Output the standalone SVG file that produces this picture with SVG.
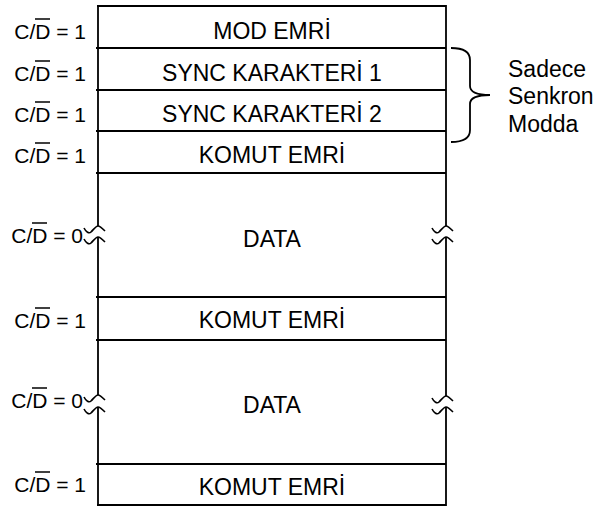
<svg xmlns="http://www.w3.org/2000/svg" width="595" height="506" viewBox="0 0 595 506">
<style>
.ln{stroke:#000;stroke-width:1.8;fill:none}
.wv{stroke:#000;stroke-width:1.6;fill:none}
.bx{font-family:"Liberation Sans",Arial,sans-serif;font-size:23px;fill:#000;text-anchor:middle}
.lb{font-family:"Liberation Sans",Arial,sans-serif;font-size:21px;fill:#000;text-anchor:end}
.nt{font-family:"Liberation Sans",Arial,sans-serif;font-size:23px;fill:#000}
.ov{stroke:#000;stroke-width:1.5}
</style>
<defs>
<path id="wv" d="M -14 2 C -12 6 -9 8 -7 6 C -4 3 -2 0 0 0 C 2 0 4 2 7 5" class="wv"/>
</defs>
<g id="frame">
<line class="ln" x1="98" y1="5" x2="98" y2="226"/>
<line class="ln" x1="98" y1="237" x2="98" y2="395"/>
<line class="ln" x1="98" y1="407" x2="98" y2="506"/>
<line class="ln" x1="446" y1="5" x2="446" y2="226"/>
<line class="ln" x1="446" y1="237" x2="446" y2="396"/>
<line class="ln" x1="446" y1="407" x2="446" y2="506"/>
<use href="#wv" x="98" y="226"/>
<use href="#wv" x="98" y="237"/>
<use href="#wv" x="98" y="395"/>
<use href="#wv" x="98" y="407"/>
<use href="#wv" x="446" y="226"/>
<use href="#wv" x="446" y="237"/>
<use href="#wv" x="446" y="396"/>
<use href="#wv" x="446" y="407"/>
</g>
<g id="r1">
<line class="ln" x1="97" y1="6" x2="446" y2="6"/>
<text class="bx" x="272" y="39">MOD EMRİ</text>
<text class="lb" x="86" y="39">C/D = 1</text>
<line class="ov" x1="35" y1="19" x2="50" y2="19"/>
</g>
<g id="r2">
<line class="ln" x1="96" y1="48" x2="446" y2="48"/>
<text class="bx" x="272" y="81">SYNC KARAKTERİ 1</text>
<text class="lb" x="86" y="81">C/D = 1</text>
<line class="ov" x1="35" y1="61" x2="50" y2="61"/>
</g>
<g id="r3">
<line class="ln" x1="96" y1="90" x2="446" y2="90"/>
<text class="bx" x="272" y="122">SYNC KARAKTERİ 2</text>
<text class="lb" x="86" y="122">C/D = 1</text>
<line class="ov" x1="35" y1="102" x2="50" y2="102"/>
</g>
<g id="r4">
<line class="ln" x1="96" y1="131" x2="446" y2="131"/>
<text class="bx" x="272" y="163">KOMUT EMRİ</text>
<text class="lb" x="86" y="163">C/D = 1</text>
<line class="ov" x1="35" y1="143" x2="50" y2="143"/>
</g>
<g id="r5">
<line class="ln" x1="96" y1="173" x2="446" y2="173"/>
<text class="bx" x="272" y="247">DATA</text>
<text class="lb" x="83" y="243">C/D = 0</text>
<line class="ov" x1="32" y1="223" x2="47" y2="223"/>
</g>
<g id="r6">
<line class="ln" x1="96" y1="297" x2="446" y2="297"/>
<text class="bx" x="272" y="328">KOMUT EMRİ</text>
<text class="lb" x="86" y="328">C/D = 1</text>
<line class="ov" x1="35" y1="308" x2="50" y2="308"/>
</g>
<g id="r7">
<line class="ln" x1="96" y1="340" x2="446" y2="340"/>
<text class="bx" x="272" y="413">DATA</text>
<text class="lb" x="83" y="408">C/D = 0</text>
<line class="ov" x1="32" y1="388" x2="47" y2="388"/>
</g>
<g id="r8">
<line class="ln" x1="96" y1="464" x2="446" y2="464"/>
<line class="ln" x1="97" y1="505" x2="446" y2="505"/>
<text class="bx" x="272" y="495">KOMUT EMRİ</text>
<text class="lb" x="86" y="492">C/D = 1</text>
<line class="ov" x1="35" y1="472" x2="50" y2="472"/>
</g>
<g id="connectors">
<path class="ln" d="M 451 48 Q 470 48 470 60 L 470 86 Q 470 95 490 95 Q 470 95 470 104 L 470 130 Q 470 142 451 142"/>
</g>
<g id="note">
<text class="nt" x="508" y="77">Sadece</text>
<text class="nt" x="508" y="104">Senkron</text>
<text class="nt" x="508" y="132">Modda</text>
</g>
</svg>
